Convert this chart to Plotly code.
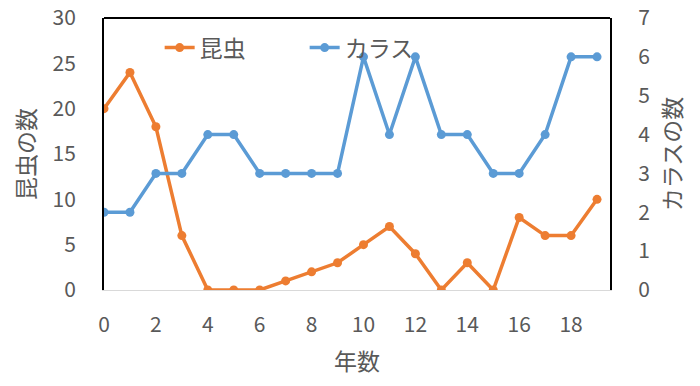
import plotly.graph_objects as go

years = list(range(20))
insects = [20, 24, 18, 6, 0, 0, 0, 1, 2, 3, 5, 7, 4, 0, 3, 0, 8, 6, 6, 10]
crows = [2, 2, 3, 3, 4, 4, 3, 3, 3, 3, 6, 4, 6, 4, 4, 3, 3, 4, 6, 6]

ORANGE = "#ED7D31"
BLUE = "#5B9BD5"
GRAY = "#595959"
FONT = "Noto Sans CJK JP"

fig = go.Figure()
fig.add_trace(go.Scatter(x=years, y=insects, name="昆虫", mode="lines+markers",
                         line=dict(color=ORANGE, width=3.5), marker=dict(size=9, color=ORANGE),
                         yaxis="y"))
fig.add_trace(go.Scatter(x=years, y=crows, name="カラス", mode="lines+markers",
                         line=dict(color=BLUE, width=3.5), marker=dict(size=9, color=BLUE),
                         yaxis="y2"))

fig.update_layout(
    width=700, height=386,
    margin=dict(l=104, r=90, t=18, b=96, autoexpand=False),
    paper_bgcolor="white", plot_bgcolor="white",
    font=dict(family=FONT, color=GRAY, size=21),
    showlegend=True,
    legend=dict(orientation="h", x=0.11, y=0.97, xanchor="left", yanchor="top",
                font=dict(size=23, color=GRAY), bgcolor="rgba(0,0,0,0)",
                itemwidth=30, tracegroupgap=0, entrywidth=100),
    xaxis=dict(range=[0, 19.5], tickvals=list(range(0, 19, 2)), showgrid=False,
               zeroline=False, showline=True, linecolor="#D9D9D9", linewidth=1,
               ticks="", automargin=False, ticklabelstandoff=16,
               title=dict(text="年数", font=dict(size=23, color=GRAY), standoff=16),
               tickfont=dict(size=21, color=GRAY)),
    yaxis=dict(range=[0, 30], tickvals=list(range(0, 31, 5)), showgrid=False,
               zeroline=False, showline=True, linecolor="black", linewidth=2,
               ticks="", automargin=False, ticklabelstandoff=22,
               title=dict(text="昆虫の数", font=dict(size=23, color=GRAY), standoff=10),
               tickfont=dict(size=21, color=GRAY)),
    yaxis2=dict(range=[0, 7], tickvals=list(range(0, 8)), overlaying="y", side="right",
                showgrid=False, zeroline=False, showline=True, linecolor="black", linewidth=2,
                ticks="", automargin=False, ticklabelstandoff=22,
                title=dict(text="カラスの数", font=dict(size=23, color=GRAY), standoff=16),
                tickfont=dict(size=21, color=GRAY)),
    shapes=[dict(type="line", xref="paper", yref="paper", x0=0, x1=1, y0=1, y1=1,
                 line=dict(color="black", width=2))],
)

fig.write_html("out.html")
